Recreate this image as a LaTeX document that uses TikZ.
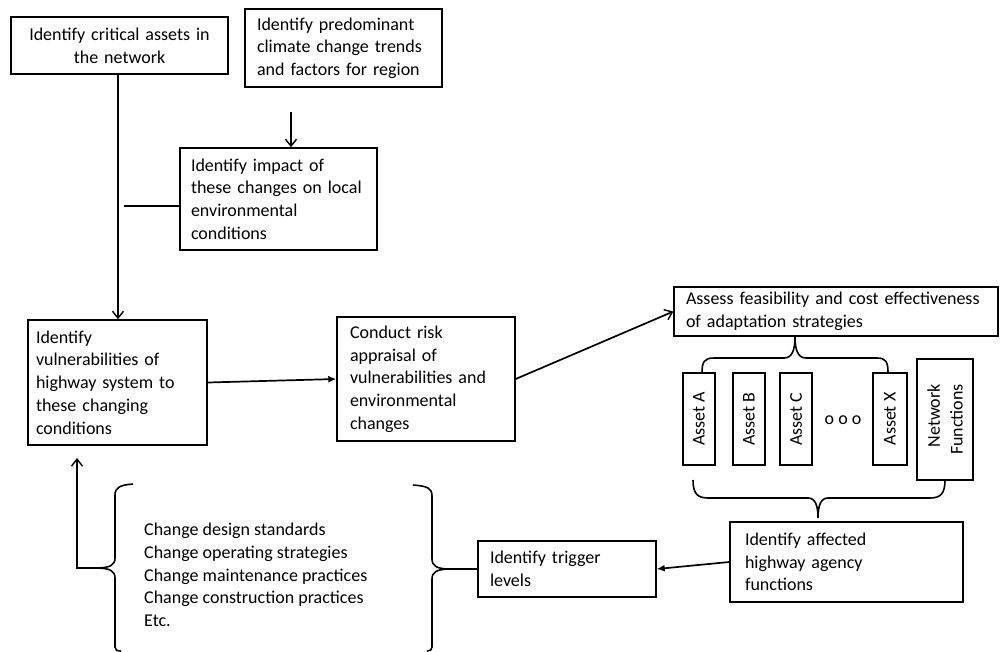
\documentclass[tikz,border=0pt]{standalone}
\usepackage{fontspec}
\setmainfont{Carlito}
\usetikzlibrary{arrows.meta}
\begin{document}
\begin{tikzpicture}[x=1pt,y=-1pt,
  every node/.style={font=\fontsize{18}{22.7}\selectfont},
  box/.style={draw,line width=1.4pt,inner ysep=0pt,inner xsep=12pt,align=left},
  abox/.style={draw,line width=1.4pt,inner sep=0pt,rotate=90,align=center},
  conn/.style={line width=1.7pt},
  openarr/.style={conn,-{Straight Barb[length=7pt,width=11pt,line width=1.4pt]}},
  fillarr/.style={conn,-{Latex[length=8pt,width=7pt]}},
  bracestyle/.style={line width=1.6pt}]
\useasboundingbox (0,0) rectangle (1000,651);
\fill[white] (0,0) rectangle (1000,651);

\node[box,align=center,text width=193pt,minimum height=57pt] (b1) at (119.5,45.5) {Identify critical assets in\\the network};
\node[box,text width=173pt,minimum height=78pt] (b2) at (343.5,48) {Identify predominant\\climate change trends\\and factors for region};
\node[box,inner xsep=11pt,text width=175pt,minimum height=102pt] (b3) at (278.5,199) {Identify impact of\\\mbox{these changes on local}\\environmental\\conditions};
\node[box,inner xsep=8pt,text width=163pt,minimum height=125pt] (b4) at (117.5,382.5) {Identify\\vulnerabilities of\\highway system to\\these changing\\conditions};
\node[box,inner xsep=13pt,text width=152pt,minimum height=124pt] (b5) at (426,379) {Conduct risk\\appraisal of\\\mbox{vulnerabilities and}\\environmental\\changes};
\node[box,text width=300pt,minimum height=49pt] (b6) at (836,311.5) {\mbox{Assess feasibility and cost effectiveness}\\of adaptation strategies};
\node[box,text width=154pt,minimum height=56pt] (trig) at (567,569) {Identify trigger\\levels};
\node[box,inner xsep=15pt,text width=203pt,minimum height=80pt] (aff) at (846.5,562) {Identify affected\\highway agency\\functions};

\node[abox,minimum width=92pt,minimum height=32pt] (aA) at (699,419) {Asset A};
\node[abox,minimum width=92pt,minimum height=32pt] (aB) at (749,419) {Asset B};
\node[abox,minimum width=92pt,minimum height=32pt] (aC) at (796,419) {Asset C};
\node (dots) at (843,420) {o o o};
\node[abox,minimum width=92pt,minimum height=34pt] (aX) at (890,419) {Asset X};
\node[abox,align=right,minimum width=121pt,minimum height=56pt] (nf) at (945,419.5) {Network\\Functions};

\node[align=left,inner sep=0pt,anchor=west] (list) at (144,575) {Change design standards\\Change operating strategies\\Change maintenance practices\\Change construction practices\\Etc.};

% connectors
\coordinate (v1) at (118,0);
\draw[openarr] (b1.south -| v1) -- (b4.north -| v1);
\coordinate (a2s) at (291,112);
\draw[openarr] (a2s) -- (a2s |- b3.north);
\coordinate (l3) at (124,206);
\draw[conn] (b3.west |- l3) -- (l3);
\draw[fillarr] (b4.east) -- (b5.west);
\draw[openarr] (b5.east) -- (b6.west);
\draw[fillarr] (aff.west) -- (trig.east);

% braces
\draw[bracestyle] (702,373) .. controls (702,362) and (704,358) .. (714,358) -- (784,358) .. controls (792,358) and (795,350) .. (795,337) .. controls (795,350) and (798,358) .. (806,358) -- (877,358) .. controls (886,358) and (888,362) .. (888,373);
\draw[bracestyle] (693,480) .. controls (693,493) and (697,498) .. (708,498) -- (808,498) .. controls (815,498) and (818,505) .. (818,518) .. controls (818,505) and (821,498) .. (828,498) -- (930,498) .. controls (941,498) and (945,493) .. (945,480);
\coordinate (lcusp) at (96,568);
\coordinate (rcusp) at (450,569);
\draw[bracestyle] (133,484) .. controls (121,485) and (115,487) .. (115,495) -- (115,558) .. controls (115,565) and (110,568) .. (lcusp) .. controls (110,568) and (115,571) .. (115,578) -- (115,647) .. controls (115,650) and (117,651) .. (121,651);
\draw[bracestyle] (413,485) .. controls (427,486) and (432,488) .. (432,496) -- (432,559) .. controls (432,566) and (437,569) .. (rcusp) .. controls (437,569) and (432,572) .. (432,579) -- (432,647) .. controls (432,650) and (430,651) .. (427,651);

\coordinate (fb) at (77,568);
\coordinate (fbtop) at (77,458);
\draw[conn] (rcusp) -- (trig.west |- rcusp);
\draw[openarr] (lcusp) -- (fb) -- (fbtop);
\end{tikzpicture}
\end{document}
